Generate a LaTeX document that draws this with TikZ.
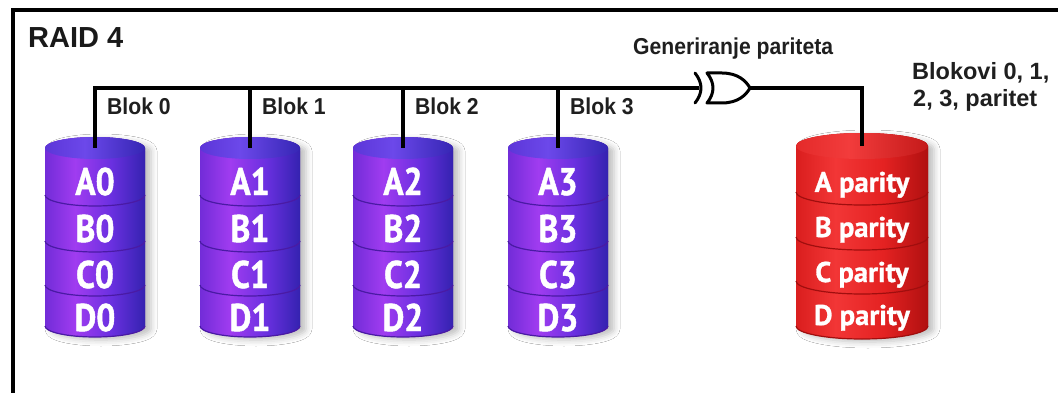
\documentclass[tikz,border=0pt]{standalone}
\usepackage{fontspec}
\usetikzlibrary{shadows.blur}

% fonts
\newfontfamily\labelfont{Liberation Sans}[FakeStretch=0.92]
\newfontfamily\sidefont{Liberation Sans}
\newfontfamily\diskcond{PT Sans}[FakeStretch=0.87, FakeBold=1.2]
\newfontfamily\diskfont{PT Sans}[FakeBold=1]

% colours of the purple data disks
\definecolor{pA}{HTML}{722CD8}
\definecolor{pB}{HTML}{A03CF0}
\definecolor{pC}{HTML}{6A30E0}
\definecolor{pD}{HTML}{3422B0}
\definecolor{ptL}{HTML}{5C36D8}
\definecolor{ptM}{HTML}{6C48EA}
\definecolor{ptR}{HTML}{3526B4}
\definecolor{purplerim}{HTML}{4A1AA4}
% colours of the red parity disk
\definecolor{rA}{HTML}{DA1E1E}
\definecolor{rB}{HTML}{F23636}
\definecolor{rC}{HTML}{E42222}
\definecolor{rD}{HTML}{B01010}
\definecolor{rtL}{HTML}{E42A2A}
\definecolor{rtM}{HTML}{F23C3C}
\definecolor{rtR}{HTML}{C41A1A}
\definecolor{redrim}{HTML}{A00E0E}

\pgfdeclarehorizontalshading{purpleside}{100bp}{color(0bp)=(pA); color(25bp)=(pA); color(40bp)=(pB); color(58bp)=(pC); color(75bp)=(pD); color(100bp)=(pD)}
\pgfdeclarehorizontalshading{purpletop}{100bp}{color(0bp)=(ptL); color(25bp)=(ptL); color(45bp)=(ptM); color(75bp)=(ptR); color(100bp)=(ptR)}
\pgfdeclarehorizontalshading{redside}{100bp}{color(0bp)=(rA); color(25bp)=(rA); color(40bp)=(rB); color(58bp)=(rC); color(75bp)=(rD); color(100bp)=(rD)}
\pgfdeclarehorizontalshading{redtop}{100bp}{color(0bp)=(rtL); color(25bp)=(rtL); color(45bp)=(rtM); color(75bp)=(rtR); color(100bp)=(rtR)}

\tikzset{
  wire/.style={line width=4.5pt, black, line join=miter},
  frameline/.style={line width=4pt, black},
  gateline/.style={line width=3pt, black, line join=round, line cap=round},
  blk/.style={font=\labelfont\bfseries\fontsize{23}{25}\selectfont, text=black!88, inner sep=0pt, anchor=base west},
  side/.style={font=\sidefont\bfseries\fontsize{23.5}{25}\selectfont, text=black!88, inner sep=0pt, anchor=base west},
  datalbl/.style={font=\diskcond\bfseries\fontsize{38.5}{40}\selectfont, text=white, inner sep=0pt, anchor=base},
  paritylbl/.style={font=\diskfont\bfseries\fontsize{28.5}{30}\selectfont, text=white, inner sep=0pt, anchor=base},
}

% #1 name, #2 centre x, #3 x radius, #4 y radius, #5 colour kind,
% #6 segments top/bottom (drawn from the lowest up), #7 top y, #8 bottom y
\newcommand\diskstack[8]{%
  \fill[#5rim, blur shadow={shadow xshift=6pt, shadow yshift=-3pt, shadow blur radius=6pt, shadow opacity=25}]
    (#2-#3,-#7) -- (#2-#3,-#8)
    arc[start angle=180, end angle=360, x radius=#3, y radius=#4]
    -- (#2+#3,-#7)
    arc[start angle=0, end angle=180, x radius=#3, y radius=#4] -- cycle;
  \foreach \yt/\yb in {#6}{%
    \shade[shading=#5side] (#2-#3,-\yt) -- (#2-#3,-\yb)
      arc[start angle=180, end angle=360, x radius=#3, y radius=#4]
      -- (#2+#3,-\yt)
      arc[start angle=0, end angle=180, x radius=#3, y radius=#4] -- cycle;
    \draw[#5rim, line width=1.2pt] (#2-#3,-\yb)
      arc[start angle=180, end angle=360, x radius=#3, y radius=#4];
  }
  \shade[shading=#5top] (#2,-#7) ellipse[x radius=#3, y radius=#4];
  \coordinate (#1) at (#2,-#7);
}

\begin{document}
\begin{tikzpicture}[x=1pt, y=1pt]
  \useasboundingbox (0,0) rectangle (1058,-393);
  \fill[white] (0,0) rectangle (1058,-393);

  % frame: top and left edges
  \draw[frameline] (1058,-10) -- (13,-10) -- (13,-393);

  % title
  \node[font=\sidefont\bfseries\fontsize{29}{30}\selectfont, inner sep=0pt, anchor=base west, text=black!90] (title) at (28,-48) {RAID 4};

  % data disks
  \diskstack{d0}{95}{50}{11}{purple}{285/326, 241/285, 195/241, 148/195}{148}{326}
  \diskstack{d1}{250}{50}{11}{purple}{285/326, 241/285, 195/241, 148/195}{148}{326}
  \diskstack{d2}{403}{50}{11}{purple}{285/326, 241/285, 195/241, 148/195}{148}{326}
  \diskstack{d3}{558}{50}{11}{purple}{285/326, 241/285, 195/241, 148/195}{148}{326}
  % parity disk
  \diskstack{dp}{862}{66}{13}{red}{281/326, 237/281, 192/237, 146/192}{146}{326}

  % block labels on the data disks
  \foreach \c [count=\i from 0] in {95,250,403,558}{
    \node[datalbl] (a\i) at (\c,-195) {A\i};
    \node[datalbl] (b\i) at (\c,-242) {B\i};
    \node[datalbl] (c\i) at (\c,-288) {C\i};
    \node[datalbl] (e\i) at (\c,-331) {D\i};
  }
  % parity labels
  \node[paritylbl] (pa) at (862,-192) {A parity};
  \node[paritylbl] (pb) at (862,-237) {B parity};
  \node[paritylbl] (pc) at (862,-282) {C parity};
  \node[paritylbl] (pd) at (862,-325) {D parity};

  % XOR gate
  \coordinate (gin) at (699,-88);
  \coordinate (gout) at (750,-88);
  \draw[gateline] (695,-73) .. controls (703,-83) and (703,-93) .. (695,-103);
  \draw[gateline] (707,-73) -- (722,-73) .. controls (738,-73) and (746,-81) .. (gout)
    .. controls (746,-95) and (738,-103) .. (722,-103) -- (707,-103)
    .. controls (715,-93) and (715,-83) .. cycle;

  % bus from the data disks into the gate
  \draw[wire] (d0) |- (gin);
  \draw[wire] (d1) -- (d1 |- gin);
  \draw[wire] (d2) -- (d2 |- gin);
  \draw[wire] (d3) -- (d3 |- gin);
  % gate output to the parity disk
  \draw[wire] (gout) -| (dp);

  % bus labels
  \node[blk] (l0) at (107,-115) {Blok 0};
  \node[blk] (l1) at (262,-115) {Blok 1};
  \node[blk] (l2) at (415,-115) {Blok 2};
  \node[blk] (l3) at (570,-115) {Blok 3};
  \node[blk] (gen) at (633,-55) {Generiranje pariteta};
  \node[side] (s1) at (912,-80) {Blokovi 0, 1,};
  \node[side] (s2) at (913,-107) {2, 3, paritet};
\end{tikzpicture}
\end{document}
